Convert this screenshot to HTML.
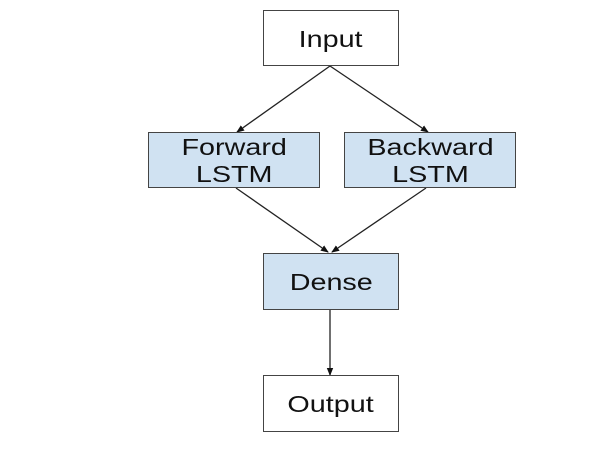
<!DOCTYPE html>
<html><head><style>
html,body{margin:0;padding:0;background:#fff;width:604px;height:463px;overflow:hidden}
.b{position:absolute;box-sizing:border-box;border:1.3px solid #444;display:flex;align-items:center;justify-content:center;text-align:center;font-family:"Liberation Sans",sans-serif;font-size:23px;color:#111;line-height:27px}
.b span{display:inline-block;transform:scaleX(1.25);padding-top:2px}
.blue{background:#d0e2f2}
</style></head><body>
<svg width="604" height="463" style="position:absolute;left:0;top:0">
<defs><marker id="a" markerWidth="8" markerHeight="8" refX="7" refY="4" orient="auto" markerUnits="userSpaceOnUse"><path d="M0,0.8 L8,4 L0,7.2z" fill="#111"/></marker></defs>
<g stroke="#222" stroke-width="1.3" fill="none">
<line x1="330" y1="66" x2="237" y2="132" marker-end="url(#a)"/>
<line x1="330" y1="66" x2="428" y2="132" marker-end="url(#a)"/>
<line x1="236" y1="188" x2="328" y2="252" marker-end="url(#a)"/>
<line x1="426" y1="188" x2="332" y2="252" marker-end="url(#a)"/>
<line x1="330" y1="310" x2="330" y2="375" marker-end="url(#a)"/>
</g></svg>
<div class="b" style="left:263px;top:10px;width:136px;height:56px"><span>Input</span></div>
<div class="b blue" style="left:148px;top:132px;width:172px;height:56px"><span>Forward<br>LSTM</span></div>
<div class="b blue" style="left:344px;top:132px;width:172px;height:56px"><span>Backward<br>LSTM</span></div>
<div class="b blue" style="left:263px;top:253px;width:136px;height:57px"><span>Dense</span></div>
<div class="b" style="left:263px;top:375px;width:136px;height:57px"><span>Output</span></div>
</body></html>
